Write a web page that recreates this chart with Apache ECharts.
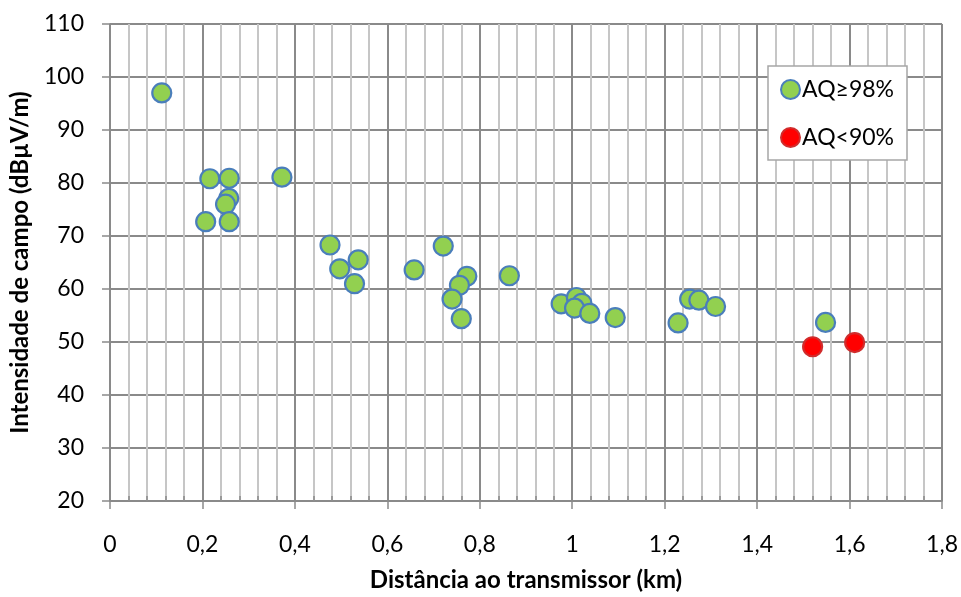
<!DOCTYPE html>
<html><head><meta charset="utf-8">
<script src="https://cdn.jsdelivr.net/npm/echarts@6/dist/echarts.min.js"></script>
<style>html,body{margin:0;padding:0;background:#fff}#c{width:961px;height:597px}</style>
</head><body><div id="c"></div>
<script>
const goodX = [0.112,0.216,0.258,0.372,0.257,0.250,0.207,0.258,0.476,0.537,0.497,0.529,0.658,0.721,0.772,0.756,0.740,0.760,0.864,0.976,1.009,1.021,1.005,1.038,1.093,1.254,1.274,1.310,1.229,1.548];
const goodY = [97.0,80.8,80.9,81.1,77.1,76.0,72.7,72.7,68.3,65.5,63.8,61.0,63.6,68.1,62.4,60.7,58.1,54.4,62.5,57.2,58.4,57.3,56.4,55.4,54.6,58.1,57.9,56.7,53.6,53.7];
const badX = [1.520,1.611];
const badY = [49.1,49.9];
const xTickLabels = ['0','0,2','0,4','0,6','0,8','1','1,2','1,4','1,6','1,8'];
const yTickLabels = ['20','30','40','50','60','70','80','90','100','110'];
const seriesNames = ['AQ≥98%','AQ<90%'];
const xTitle = 'Distância ao transmissor (km)';
const yTitle = 'Intensidade de campo (dBµV/m)';

const font = 'Lato, "Open Sans", sans-serif';
const major = '#8a8a8a';
const minor = '#c6c6c6';
const chart = echarts.init(document.getElementById('c'), null, {renderer:'canvas'});
chart.setOption({
  animation:false,
  backgroundColor:'#fff',
  grid:{left:110,right:18,top:24,bottom:87},
  legend:{
    orient:'vertical', left:768, top:66,
    padding:[12,13,11,12], itemGap:25, itemWidth:19, itemHeight:19,
    borderColor:'#a6a6a6', borderWidth:1.5, backgroundColor:'#fff',
    icon:'circle',
    textStyle:{fontFamily:font,fontSize:23,color:'#000',padding:[0,0,0,-3]},
    data:seriesNames
  },
  xAxis:[{
    type:'value', min:0, max:1.8, interval:0.2,
    name:xTitle, nameLocation:'middle', nameGap:67,
    nameTextStyle:{fontFamily:font,fontSize:24,fontWeight:'bold',color:'#000'},
    axisLine:{show:true,lineStyle:{color:major,width:1.5}},
    axisTick:{show:true,length:8,lineStyle:{color:major,width:1.5}},
    axisLabel:{fontFamily:font,fontSize:23,color:'#000',margin:32,
      formatter:(v,i)=>xTickLabels[Math.round(v/0.2)]},
    splitLine:{show:true,lineStyle:{color:major,width:2}},
    minorTick:{show:false},
    minorSplitLine:{show:true,lineStyle:{color:minor,width:2}},
    splitNumber:9
  },{
    type:'value', min:0, max:1.8, interval:0.04, position:'bottom',
    axisLine:{show:false}, axisLabel:{show:false}, splitLine:{show:false},
    axisTick:{show:true,inside:true,length:5,lineStyle:{color:major,width:1.5}}
  }],
  yAxis:{
    type:'value', min:20, max:110, interval:10,
    name:yTitle, nameLocation:'middle', nameGap:78, nameRotate:90,
    nameTextStyle:{fontFamily:font,fontSize:24,fontWeight:'bold',color:'#000'},
    axisLine:{show:true,lineStyle:{color:major,width:1.5}},
    axisTick:{show:true,length:8,lineStyle:{color:major,width:1.5}},
    axisLabel:{fontFamily:font,fontSize:23,color:'#000',margin:26,
      formatter:(v)=>yTickLabels[Math.round((v-20)/10)]},
    splitLine:{show:true,lineStyle:{color:major,width:2}}
  },
  series:[{
    name:seriesNames[0], type:'scatter', symbol:'circle', symbolSize:19,
    itemStyle:{color:'#92d050',borderColor:'#4a7ebb',borderWidth:2.2,opacity:1},
    data:goodX.map((x,i)=>[x,goodY[i]])
  },{
    name:seriesNames[1], type:'scatter', symbol:'circle', symbolSize:19,
    itemStyle:{color:'#ff0000',borderColor:'#d02c2c',borderWidth:2.2,opacity:1},
    data:badX.map((x,i)=>[x,badY[i]])
  }]
});
</script></body></html>
